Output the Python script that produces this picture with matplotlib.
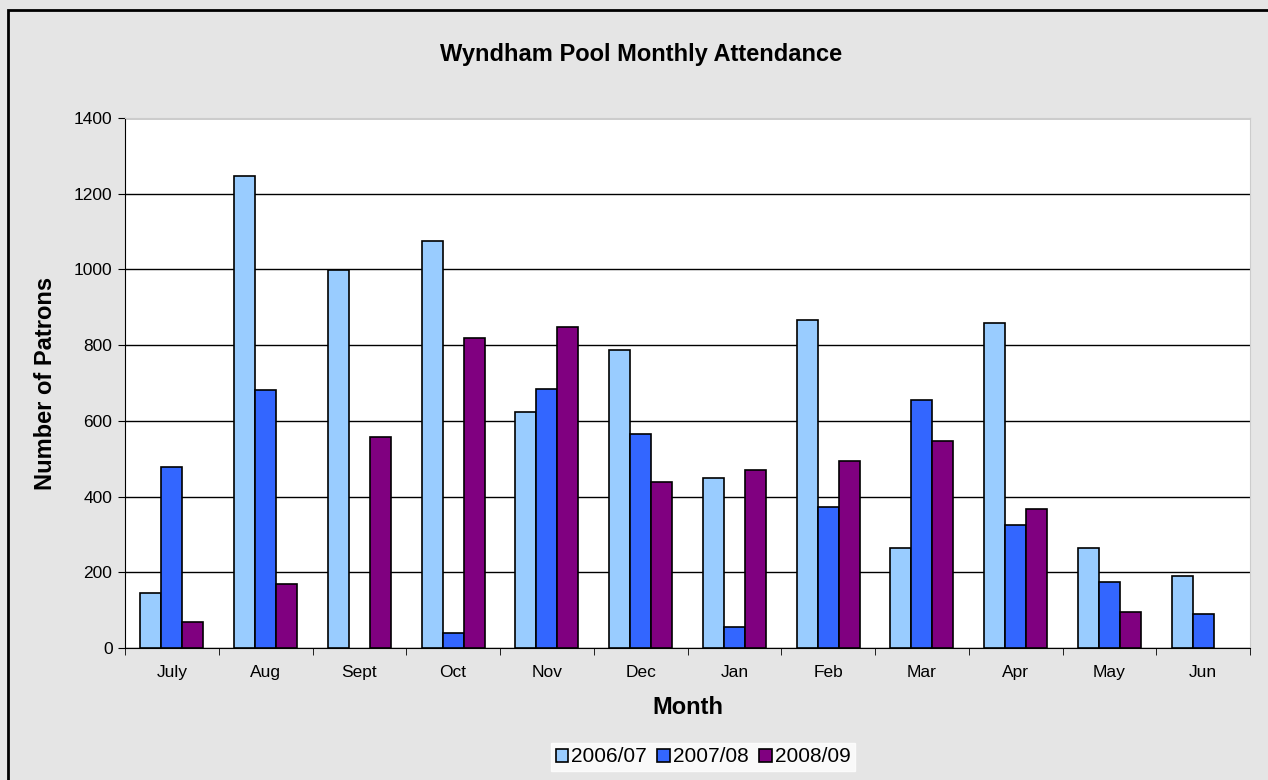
import matplotlib.pyplot as plt
import numpy as np
from matplotlib.patches import Rectangle

months = ['July', 'Aug', 'Sept', 'Oct', 'Nov', 'Dec', 'Jan', 'Feb', 'Mar', 'Apr', 'May', 'Jun']
att_0607 = [144, 1247, 999, 1076, 623, 788, 449, 867, 265, 858, 265, 189]
att_0708 = [479, 681, 0, 39, 683, 565, 56, 372, 655, 324, 174, 91]
att_0809 = [70, 170, 558, 820, 847, 438, 470, 493, 546, 366, 95, 0]
seasons = ['2006/07', '2007/08', '2008/09']
colors = ['#99CCFF', '#3366FF', '#800080']

plt.rcParams['font.family'] = ['Liberation Sans', 'DejaVu Sans']

fig = plt.figure(figsize=(12.68, 7.8), dpi=100)
fig.patch.set_facecolor('#E5E5E5')
fig.patches.append(Rectangle((8 / 1268, -0.1), 1.2, (780 - 10) / 780 + 0.1,
                             transform=fig.transFigure, fill=False,
                             edgecolor='black', linewidth=2))

ax = fig.add_axes([125 / 1268, (780 - 648) / 780, 1125 / 1268, 530 / 780])
ax.set_facecolor('white')

x = np.arange(len(months))
w = 0.224
for i, (vals, lab, c) in enumerate(zip([att_0607, att_0708, att_0809], seasons, colors)):
    bars = ax.bar(x + (i - 1) * w, vals, w, color=c, edgecolor='black', linewidth=1.2,
                  label=lab, zorder=3)
    for b in bars:
        if b.get_height() == 0:
            b.set_linewidth(0)

ax.set_xlim(-0.5, len(months) - 0.5)
ax.set_ylim(0, 1400)
ax.set_yticks(np.arange(0, 1401, 200))
ax.grid(axis='y', color='black', linewidth=1, zorder=0)
ax.set_xticks(x)
ax.set_xticklabels(months, fontsize=12.5)
ax.set_xticks(np.arange(-0.5, len(months)), minor=True)
ax.tick_params(axis='x', which='major', length=0, pad=12)
ax.tick_params(axis='x', which='minor', length=5, direction='out', color='black')
ax.tick_params(axis='y', length=5, direction='out', labelsize=12.5, pad=4)

for s in ['top', 'right']:
    ax.spines[s].set_color('#CCCCCC')
for s in ['left', 'bottom']:
    ax.spines[s].set_color('black')

ax.set_xlabel('Month', fontsize=17, fontweight='bold', labelpad=12)
ax.set_ylabel('Number of Patrons', fontsize=17, fontweight='bold', labelpad=12)
fig.text(641 / 1268, 1 - 55 / 780, 'Wyndham Pool Monthly Attendance', ha='center',
         va='center', fontsize=17, fontweight='bold')

leg = fig.legend(loc='center', bbox_to_anchor=(703 / 1268, 1 - 757 / 780), ncol=3,
                 fontsize=15, frameon=True, fancybox=False, handlelength=0.6,
                 handleheight=0.6, handletextpad=0.15, columnspacing=0.5,
                 borderpad=0.2, borderaxespad=0, edgecolor='white')
leg.get_frame().set_facecolor('white')

fig.savefig('out.png', dpi=100, facecolor=fig.get_facecolor())
